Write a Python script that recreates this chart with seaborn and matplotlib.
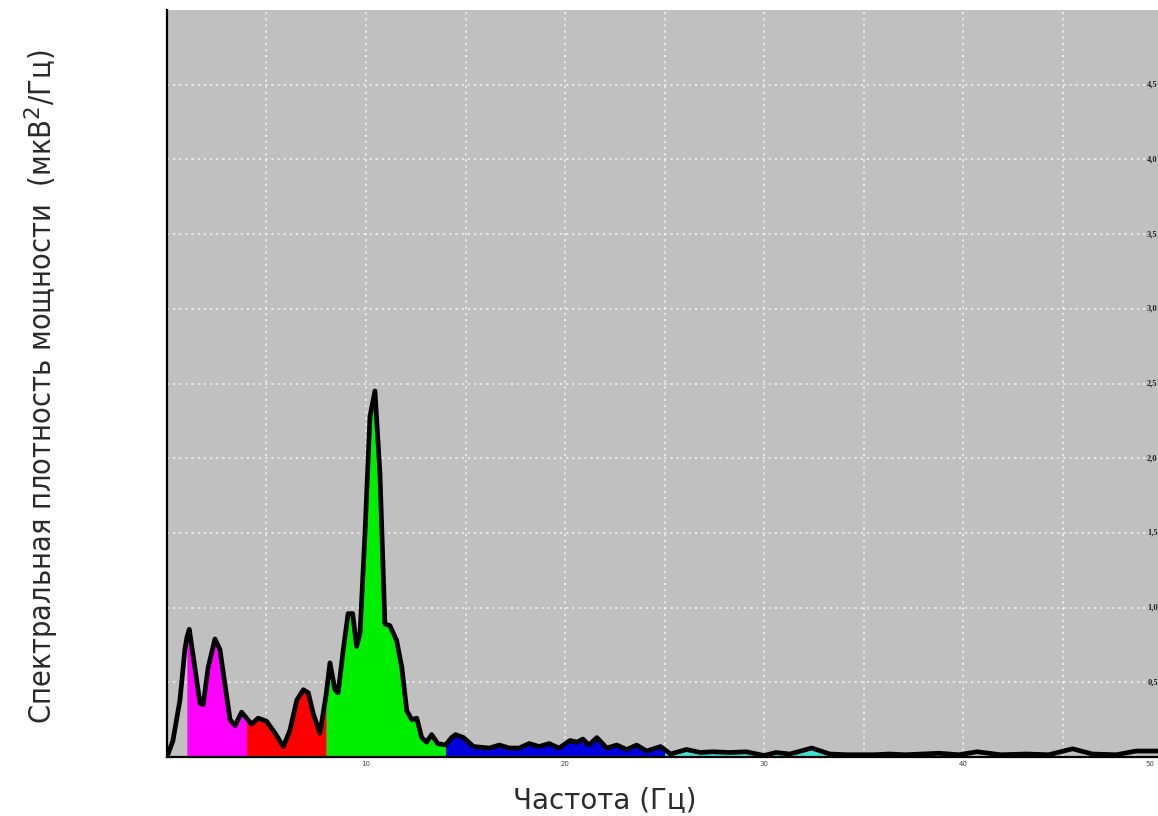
import numpy as np
import pandas as pd
import matplotlib
matplotlib.use("Agg")
import matplotlib.pyplot as plt
import seaborn as sns

# ---- data ----
freq = [0.0, 0.3, 0.65, 0.9, 1.0, 1.12, 1.4, 1.66, 1.82, 2.07, 2.41, 2.66, 2.91, 3.17, 3.42,
        3.75, 4.0, 4.25, 4.58, 5.0, 5.43, 5.85, 6.18, 6.52, 6.85, 7.1, 7.35, 7.69, 8.0, 8.19,
        8.44, 8.6, 8.86, 9.1, 9.33, 9.53, 9.7, 9.95, 10.2, 10.45, 10.7, 10.85, 10.95, 11.2,
        11.54, 11.8, 12.05, 12.3, 12.55, 12.8, 13.05, 13.3, 13.6, 14.0, 14.3, 14.5, 14.9,
        15.4, 16.2, 16.7, 17.2, 17.7, 18.2, 18.7, 19.2, 19.7, 20.25, 20.6, 20.9, 21.2, 21.6,
        22.1, 22.6, 23.1, 23.6, 24.1, 24.8, 25.0, 25.3, 26.1, 26.8, 27.4, 28.3, 29.1, 30.0,
        30.6, 31.3, 32.4, 33.3, 34.2, 35.0, 35.5, 36.3, 37.1, 38.8, 39.8, 40.7, 41.9, 43.2,
        44.3, 45.5, 46.5, 47.7, 48.7, 49.7, 50.5]
psd = [0.0, 0.11, 0.38, 0.72, 0.80, 0.855, 0.60, 0.36, 0.35, 0.60, 0.79, 0.72, 0.49, 0.25, 0.21,
       0.30, 0.26, 0.22, 0.26, 0.24, 0.16, 0.07, 0.18, 0.38, 0.45, 0.43, 0.29, 0.16, 0.42, 0.63,
       0.45, 0.43, 0.72, 0.96, 0.96, 0.74, 0.83, 1.50, 2.28, 2.45, 1.90, 1.30, 0.89, 0.88,
       0.78, 0.60, 0.31, 0.25, 0.26, 0.13, 0.10, 0.15, 0.09, 0.08, 0.13, 0.15, 0.13,
       0.07, 0.06, 0.08, 0.06, 0.06, 0.09, 0.07, 0.09, 0.06, 0.11, 0.10, 0.12, 0.08, 0.13,
       0.06, 0.08, 0.05, 0.08, 0.04, 0.07, 0.05, 0.02, 0.05, 0.03, 0.035, 0.03, 0.035, 0.01,
       0.03, 0.02, 0.06, 0.02, 0.015, 0.015, 0.015, 0.02, 0.015, 0.025, 0.015, 0.035, 0.015, 0.02,
       0.015, 0.055, 0.02, 0.015, 0.04, 0.04, 0.04]

band_lo = [1.0, 4.0, 8.0, 14.0, 25.0]
band_hi = [4.0, 8.0, 14.0, 25.0, 35.0]
band_colors = ["#ff00ff", "#ff0000", "#00ee00", "#0000dd", "#40e0d0"]

x_grid = [0, 5, 10, 15, 20, 25, 30, 35, 40, 45, 50]
x_labels = ["", "", "10", "", "20", "", "30", "", "40", "", ""]
x_last_label = "50"
y_grid = [0.5, 1.0, 1.5, 2.0, 2.5, 3.0, 3.5, 4.0, 4.5]
y_labels = ["0,5", "1,0", "1,5", "2,0", "2,5", "3,0", "3,5", "4,0", "4,5"]

x_title = "Частота (Гц)"
y_title = "Спектральная плотность мощности  (мкВ$^2$/Гц)"

df = pd.DataFrame({"f": freq, "p": psd})

sns.set_theme(style="white")
plt.rcParams["font.family"] = ["DejaVu Sans"]

fig = plt.figure(figsize=(11.58, 8.16), dpi=100)
ax = fig.add_axes([0.1442, 0.0723, 0.8593, 0.9154])
ax.set_facecolor("#c0c0c0")

f = df["f"].to_numpy()
p = df["p"].to_numpy()
for lo, hi, c in zip(band_lo, band_hi, band_colors):
    m = (f >= lo) & (f <= hi)
    ax.fill_between(f, 0, p, where=m, color=c, linewidth=0, interpolate=False, zorder=2)

sns.lineplot(data=df, x="f", y="p", ax=ax, color="black", linewidth=3.4,
             zorder=3, solid_joinstyle="round", solid_capstyle="round")

ax.set_xlim(0, 50)
ax.set_ylim(0, 5.0)
ax.set_xticks(x_grid)
ax.set_xticklabels(x_labels, fontsize=5, color="#444444")
ax.set_yticks(y_grid)
ax.set_yticklabels([])
ax.tick_params(axis="both", length=0, pad=3)
ax.grid(True, color="white", linestyle=(0, (1.2, 2.2)), linewidth=1.3, alpha=0.7, zorder=1)
ax.set_axisbelow(True)

ax.text(49.4, -0.03, x_last_label, fontsize=5, color="#444444", ha="center", va="top",
        clip_on=False)

for v, lab in zip(y_grid, y_labels):
    ax.text(49.25, v, lab, fontsize=6, family="Liberation Serif", weight="bold",
            ha="left", va="center", color="#222222", zorder=4, clip_on=False,
            bbox=dict(facecolor="#c0c0c0", edgecolor="none", pad=1.0))

for s in ["top", "right"]:
    ax.spines[s].set_visible(False)
for s in ["left", "bottom"]:
    ax.spines[s].set_color("black")
    ax.spines[s].set_linewidth(1.6)

ax.set_xlabel("")
ax.set_ylabel("")

fig.text(0.522, 0.020, x_title, ha="center", va="center", fontsize=20, color="#2a2a2a")
fig.text(0.036, 0.526, y_title, ha="center", va="center", rotation=90, fontsize=22,
         color="#2a2a2a", family=["Liberation Sans Narrow", "DejaVu Sans"],
         fontstretch="condensed")

fig.savefig("out.png", dpi=100)
